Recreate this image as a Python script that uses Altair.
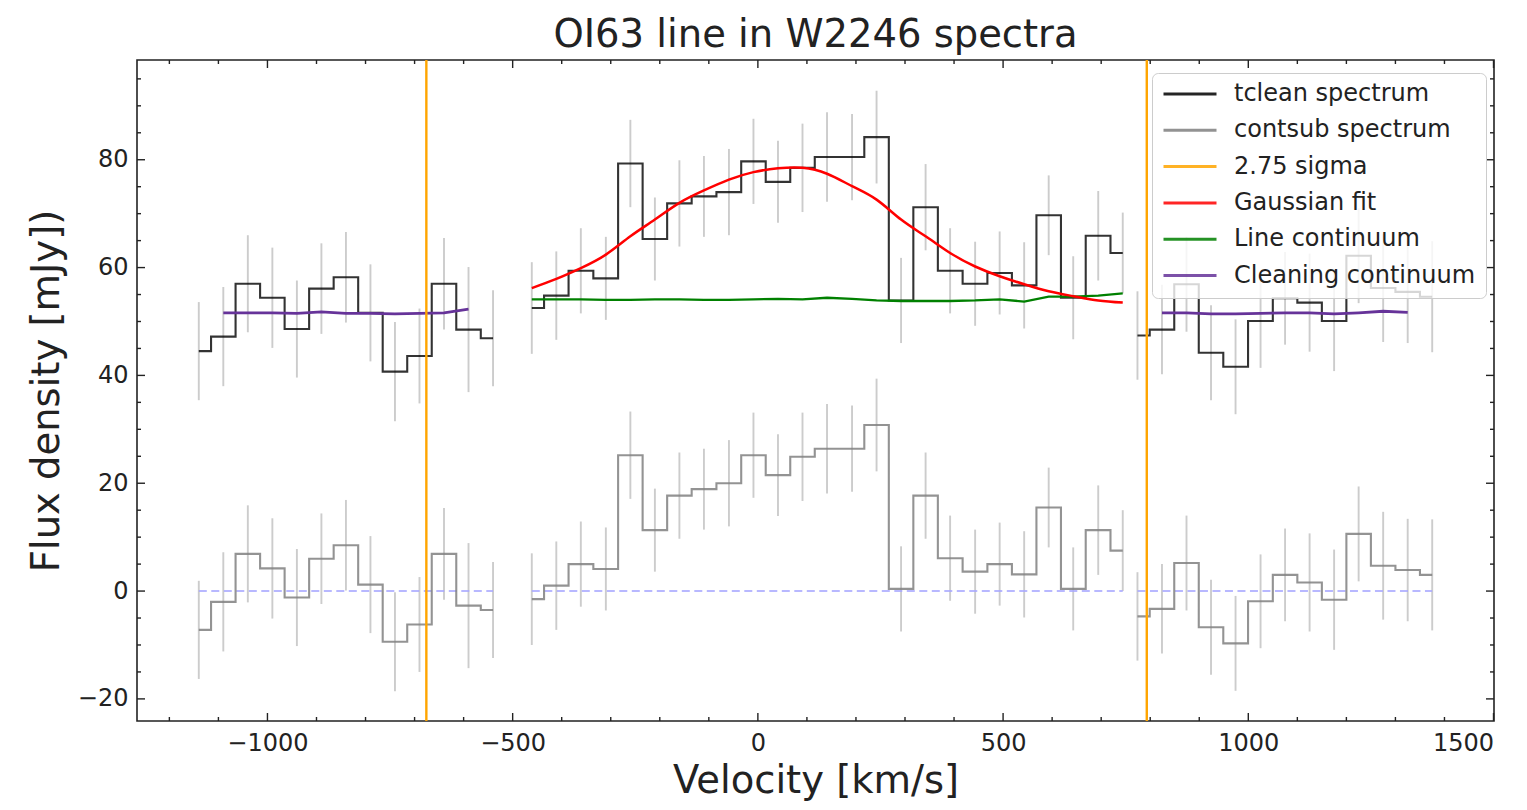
import altair as alt
import pandas as pd

# ---------------- data ----------------
# channel velocities (km/s) of the three spectral chunks
vel_left = [-1140, -1090, -1040, -990, -940, -890, -840, -790, -740, -690, -640, -590, -540]
vel_mid = [-461, -411, -361, -310, -260, -210, -160, -110, -59, -9, 41, 91, 141,
           192, 242, 292, 342, 392, 443, 493, 543, 593, 643, 694, 744]
vel_right = [774, 824, 874, 924, 974, 1025, 1075, 1125, 1175, 1225, 1275, 1325, 1375]

# tclean spectrum (mJy)
tclean_left = [44.5, 47.2, 57.0, 54.4, 48.6, 56.1, 58.2, 51.6, 40.7, 43.6, 57.0, 48.5, 46.9]
tclean_mid = [52.5, 54.8, 59.4, 58.0, 79.3, 65.3, 71.9, 73.2, 74.0, 79.7, 75.9, 78.5, 80.5,
              80.5, 84.2, 53.9, 71.2, 59.4, 57.0, 59.0, 56.7, 69.7, 54.4, 65.9, 62.7]
tclean_right = [47.4, 48.5, 56.9, 44.2, 41.6, 50.1, 54.3, 53.5, 50.1, 62.2, 56.2, 55.5, 54.6]

# continuum-subtracted spectrum (mJy)
contsub_left = [-7.2, -2.0, 6.9, 4.2, -1.2, 6.0, 8.5, 1.2, -9.4, -6.2, 6.9, -2.7, -3.5]
contsub_mid = [-1.5, 1.0, 5.0, 4.1, 25.2, 11.3, 17.7, 18.9, 20.0, 25.2, 21.5, 24.9, 26.4,
               26.4, 30.8, 0.4, 17.7, 6.1, 3.6, 5.0, 3.1, 15.5, 0.4, 11.3, 7.5]
contsub_right = [-4.7, -3.3, 5.2, -6.7, -9.7, -1.9, 3.0, 1.6, -1.6, 10.6, 4.7, 3.9, 3.0]

# 1-sigma uncertainties (mJy)
err_left = [9.1, 9.2, 9.0, 9.3, 9.0, 8.4, 8.4, 9.0, 9.2, 8.8, 8.5, 11.6, 8.9]
err_mid = [8.5, 8.2, 7.9, 7.7, 8.1, 7.7, 8.0, 7.5, 8.0, 7.9, 7.6, 8.2, 8.3,
           8.0, 8.6, 7.9, 8.0, 7.9, 7.8, 7.7, 8.0, 7.4, 7.7, 8.3, 7.5]
err_right = [8.2, 8.3, 8.8, 8.8, 8.8, 8.7, 8.6, 9.1, 9.3, 8.8, 10.0, 9.5, 10.3]

# Gaussian fit, sampled at the middle-chunk channels
gauss_fit = [56.2, 57.9, 59.9, 62.4, 65.8, 68.9, 72.0, 74.3, 76.3, 77.7, 78.4, 78.5, 77.4,
             75.1, 72.6, 68.9, 65.8, 62.7, 60.2, 58.4, 56.9, 55.6, 54.7, 53.9, 53.5]
# line continuum, middle chunk
line_cont = [54.1, 54.1, 54.1, 54.0, 54.0, 54.1, 54.1, 54.0, 54.0, 54.1, 54.2, 54.1, 54.4,
             54.2, 53.9, 53.8, 53.8, 53.8, 53.9, 54.1, 53.7, 54.6, 54.6, 54.8, 55.2]
# cleaning continuum (channels 2..12 of the outer chunks)
clean_cont_left = [51.6, 51.6, 51.6, 51.5, 51.8, 51.5, 51.5, 51.4, 51.5, 51.6, 52.3]
clean_cont_right = [51.6, 51.6, 51.4, 51.4, 51.5, 51.6, 51.6, 51.4, 51.6, 51.9, 51.7]

# 2.75 sigma limits (km/s)
sigma_lines = [-676, 793]

# axis ticks
x_major = [-1000, -500, 0, 500, 1000, 1500]
x_minor = [-1200, -1100, -900, -800, -700, -600, -400, -300, -200, -100, 100, 200, 300, 400,
           600, 700, 800, 900, 1100, 1200, 1300, 1400]
y_major = [-20, 0, 20, 40, 60, 80]
y_minor = [-15, -10, -5, 5, 10, 15, 25, 30, 35, 45, 50, 55, 65, 70, 75, 85, 90, 95]

series_names = ["tclean spectrum", "contsub spectrum", "2.75 sigma", "Gaussian fit",
                "Line continuum", "Cleaning continuum"]
series_colors = ["black", "gray", "orange", "red", "green", "rebeccapurple"]

# ---------------- tables ----------------
rows = []
for seg, vs, tc, cs, er in [("L", vel_left, tclean_left, contsub_left, err_left),
                            ("M", vel_mid, tclean_mid, contsub_mid, err_mid),
                            ("R", vel_right, tclean_right, contsub_right, err_right)]:
    for v, t, c, e in zip(vs, tc, cs, er):
        rows.append(dict(seg=seg, v=v, tclean=t, contsub=c, err=e))
spec = pd.DataFrame(rows)

tc_df = spec.assign(flux=spec.tclean, series="tclean spectrum")
cs_df = spec.assign(flux=spec.contsub, series="contsub spectrum")
err_df = pd.concat([
    spec.assign(lo=spec.tclean - spec.err, hi=spec.tclean + spec.err),
    spec.assign(lo=spec.contsub - spec.err, hi=spec.contsub + spec.err),
])
zero_df = spec.assign(zero=0.0)
gauss_df = pd.DataFrame(dict(v=vel_mid, flux=gauss_fit, series="Gaussian fit"))
lcont_df = pd.DataFrame(dict(v=vel_mid, flux=line_cont, series="Line continuum"))
ccont_df = pd.concat([
    pd.DataFrame(dict(v=vel_left[1:12], flux=clean_cont_left, seg="L")),
    pd.DataFrame(dict(v=vel_right[1:12], flux=clean_cont_right, seg="R")),
]).assign(series="Cleaning continuum")
sig_df = pd.DataFrame(dict(v=sigma_lines, series="2.75 sigma"))

xmaj_df = pd.DataFrame(dict(t=x_major))
xmin_df = pd.DataFrame(dict(t=x_minor))
ymaj_df = pd.DataFrame(dict(t=y_major))
ymin_df = pd.DataFrame(dict(t=y_minor))

# ---------------- chart ----------------
W, H = 1357, 661
FONT = "DejaVu Sans"
INK = "#222222"

xs = alt.Scale(domain=[-1266, 1501], nice=False, zero=False)
ys = alt.Scale(domain=[-24.1, 98.5], nice=False, zero=False)
cs = alt.Scale(domain=series_names, range=series_colors)

legend = alt.Legend(
    title=None, orient="none", legendX=1152 - 137, legendY=73 - 60,
    symbolType="stroke", symbolSize=53 * 53, symbolStrokeWidth=3,
    labelFont=FONT, labelFontSize=24, labelColor=INK, labelOffset=16, labelLimit=500,
    padding=10, rowPadding=12.3, clipHeight=22,
    fillColor="rgba(255,255,255,0.8)", strokeColor="#cccccc", cornerRadius=6,
)

xaxis = alt.Axis(values=x_major, format="d", ticks=False, domain=False, grid=False,
                 labelFont=FONT, labelFontSize=24, labelColor=INK, labelPadding=10,
                 title="Velocity [km/s]", titleFont=FONT, titleFontSize=38.5,
                 titleFontWeight="normal", titleColor=INK, titlePadding=7)
yaxis = alt.Axis(values=y_major, format="d", ticks=False, domain=False, grid=False,
                 labelFont=FONT, labelFontSize=24, labelColor=INK, labelPadding=9,
                 title="Flux density [mJy])", titleFont=FONT, titleFontSize=38.5,
                 titleFontWeight="normal", titleColor=INK, titlePadding=11)


def X(field="v"):
    return alt.X(f"{field}:Q", scale=xs, axis=xaxis)


def Y(field="flux"):
    return alt.Y(f"{field}:Q", scale=ys, axis=yaxis)


def C():
    return alt.Color("series:N", scale=cs, legend=legend)


errbars = alt.Chart(err_df).mark_rule(color="#cccccc", strokeWidth=1.9).encode(
    x=X(), y=Y("lo"), y2="hi:Q")

zero = alt.Chart(zero_df).mark_line(color="#a6a6ff", strokeWidth=1.9, strokeDash=[8, 4.5],
                                     opacity=0.8).encode(
    x=X(), y=Y("zero"), detail="seg:N")

cs_line = alt.Chart(cs_df).mark_line(interpolate="step", strokeWidth=2.1, opacity=0.85).encode(
    x=X(), y=Y(), detail="seg:N", color=C())
tc_line = alt.Chart(tc_df).mark_line(interpolate="step", strokeWidth=2.1, opacity=0.8).encode(
    x=X(), y=Y(), detail="seg:N", color=C())
gauss = alt.Chart(gauss_df).mark_line(interpolate="natural", strokeWidth=2.5).encode(
    x=X(), y=Y(), color=C())
lcont = alt.Chart(lcont_df).mark_line(strokeWidth=2.3).encode(
    x=X(), y=Y(), color=C())
ccont = alt.Chart(ccont_df).mark_line(strokeWidth=2.8).encode(
    x=X(), y=Y(), detail="seg:N", color=C())
sig = alt.Chart(sig_df).mark_rule(strokeWidth=2.4).encode(x=X(), color=C())

TICK = dict(color=INK, strokeWidth=1.4)
ticks = [
    alt.Chart(xmaj_df).mark_rule(**TICK).encode(x=X("t"), y=alt.value(H), y2=alt.value(H - 8)),
    alt.Chart(xmin_df).mark_rule(**TICK).encode(x=X("t"), y=alt.value(H), y2=alt.value(H - 4)),
    alt.Chart(xmaj_df).mark_rule(**TICK).encode(x=X("t"), y=alt.value(0), y2=alt.value(8)),
    alt.Chart(xmin_df).mark_rule(**TICK).encode(x=X("t"), y=alt.value(0), y2=alt.value(4)),
    alt.Chart(ymaj_df).mark_rule(**TICK).encode(y=Y("t"), x=alt.value(0), x2=alt.value(8)),
    alt.Chart(ymin_df).mark_rule(**TICK).encode(y=Y("t"), x=alt.value(0), x2=alt.value(4)),
    alt.Chart(ymaj_df).mark_rule(**TICK).encode(y=Y("t"), x=alt.value(W), x2=alt.value(W - 8)),
    alt.Chart(ymin_df).mark_rule(**TICK).encode(y=Y("t"), x=alt.value(W), x2=alt.value(W - 4)),
]

chart = alt.layer(errbars, zero, cs_line, tc_line, lcont, ccont, gauss, sig, *ticks).properties(
    width=W, height=H,
    title=alt.TitleParams("OI63 line in W2246 spectra", font=FONT, fontSize=38.5,
                          fontWeight="normal", color=INK, anchor="middle", offset=3),
    autosize=alt.AutoSizeParams(type="none"),
    padding={"left": 137, "top": 60, "right": 1527 - 137 - W, "bottom": 810 - 60 - H},
    background="white",
).configure_view(stroke=INK, strokeWidth=1.6)

chart.save("out.html", embed_options={"renderer": "svg", "actions": False})
